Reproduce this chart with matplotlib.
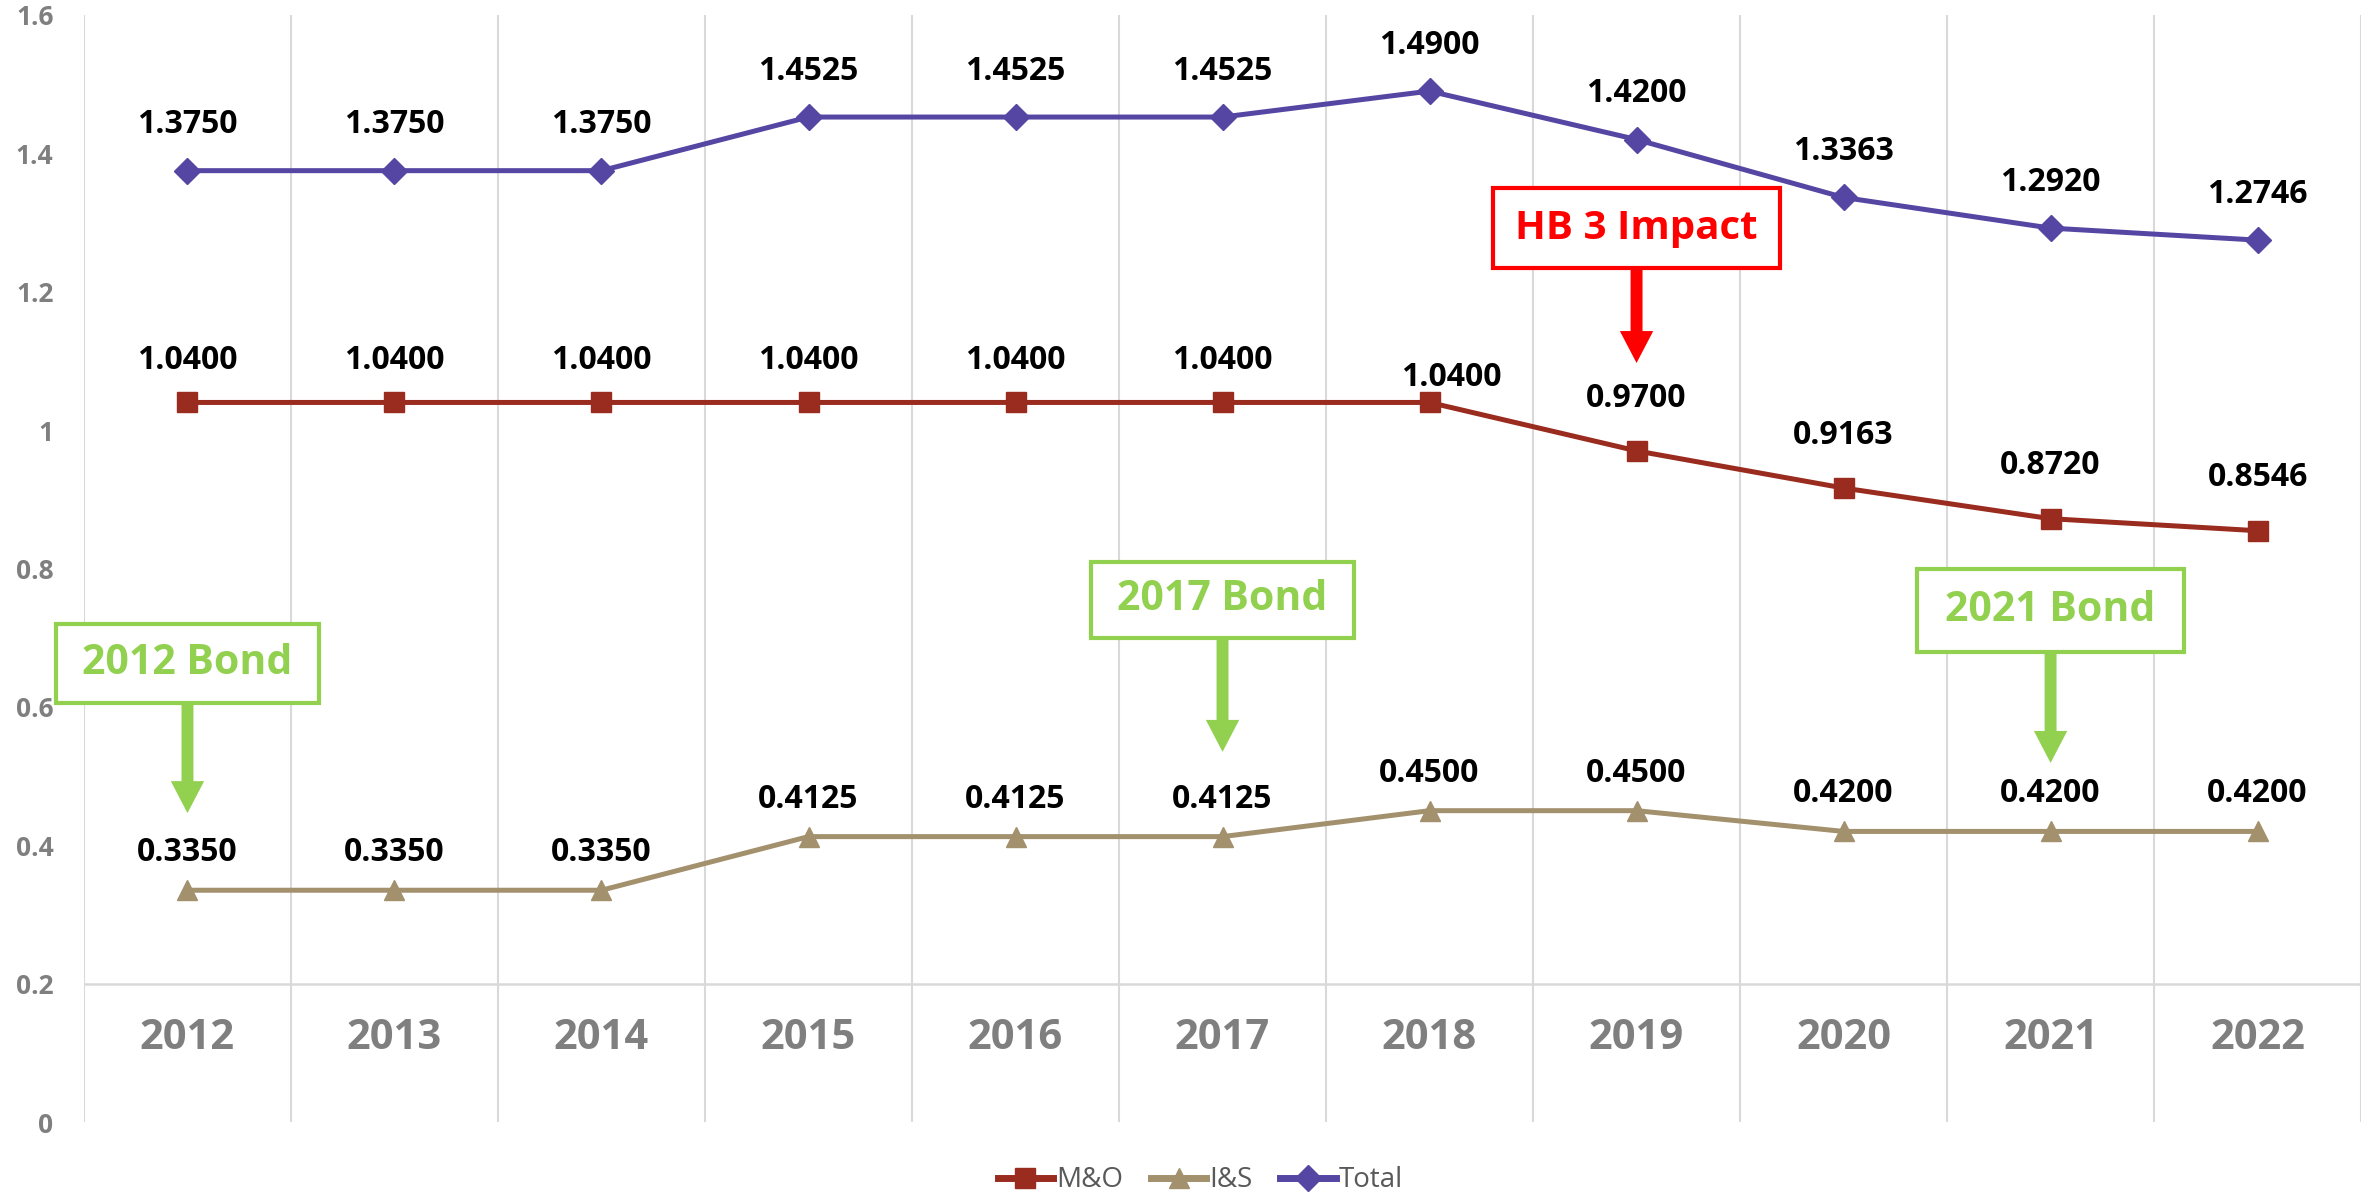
import numpy as np
import matplotlib
matplotlib.use('Agg')
import matplotlib.pyplot as plt

plt.rcParams['font.family'] = ['Open Sans', 'DejaVu Sans']

# data
years = ['2012', '2013', '2014', '2015', '2016', '2017', '2018', '2019', '2020', '2021', '2022']
mo = [1.04, 1.04, 1.04, 1.04, 1.04, 1.04, 1.04, 0.97, 0.9163, 0.872, 0.8546]
i_s = [0.335, 0.335, 0.335, 0.4125, 0.4125, 0.4125, 0.45, 0.45, 0.42, 0.42, 0.42]
total = [1.375, 1.375, 1.375, 1.4525, 1.4525, 1.4525, 1.49, 1.42, 1.3363, 1.292, 1.2746]

# annotations: (text, year index, box bottom, box top, arrow tip, box half width)
notes_red = [('HB 3 Impact', 7, 1.234, 1.35, 1.097, 0.695)]
notes_green = [('2012 Bond', 0, 0.605, 0.72, 0.4465, 0.635),
               ('2017 Bond', 5, 0.70, 0.81, 0.535, 0.635),
               ('2021 Bond', 9, 0.68, 0.80, 0.519, 0.645)]

c_mo = '#9A2B1F'
c_is = '#A3906D'
c_tot = '#5546A3'
gray = '#7F7F7F'
grid = '#D9D9D9'

fig = plt.figure(figsize=(23.72, 11.99), dpi=100)
ax = fig.add_axes([0.0354, 0.0642, 0.96, 0.9233])
x = np.arange(len(years))

ax.plot(x, mo, color=c_mo, lw=3.6, marker='s', ms=15, label='M&O', zorder=3)
ax.plot(x, i_s, color=c_is, lw=3.6, marker='^', ms=15, label='I&S', zorder=3)
ax.plot(x, total, color=c_tot, lw=3.6, marker='D', ms=13, label='Total', zorder=3)

ax.set_xlim(-0.5, len(years) - 0.5)
ax.set_ylim(0, 1.6)
ax.set_yticks(np.arange(0, 1.61, 0.2))
ax.set_yticklabels(['0', '0.2', '0.4', '0.6', '0.8', '1', '1.2', '1.4', '1.6'])
ax.tick_params(axis='y', length=0, pad=22, labelsize=19, labelcolor=gray)
for t in ax.get_yticklabels():
    t.set_fontweight('bold')
ax.set_xticks([])
for s in ax.spines.values():
    s.set_visible(False)

for b in np.arange(-0.5, len(years), 1.0):
    ax.axvline(b, color=grid, lw=1.5, zorder=0)
ax.axhline(0.2, color=grid, lw=1.8, zorder=0)

for i, yr in enumerate(years):
    ax.text(i, 0.12, yr, ha='center', va='center', fontsize=30, fontweight='bold', color=gray)

def labels(vals, off, special=None):
    for i, v in enumerate(vals):
        dx, dy = 0, off
        if special and i in special:
            dx, dy = special[i]
        ax.annotate('%.4f' % v, (i, v), xytext=(dx, dy), textcoords='offset points',
                    ha='center', va='center', fontsize=23, fontweight='bold', color='black')

labels(total, 33)
labels(mo[:7], 30, special={6: (16, 18)})
for i in range(7, len(mo)):
    ax.annotate('%.4f' % mo[i], (i, mo[i]), xytext=(0, 38), textcoords='offset points',
                ha='center', va='center', fontsize=23, fontweight='bold', color='black')
labels(i_s, 27)

def callout(notes, color, fs):
    for txt, xi, y0, y1, tip, hw in notes:
        ax.add_patch(plt.Rectangle((xi - hw, y0), 2 * hw, y1 - y0, fill=True, facecolor='white',
                                   edgecolor=color, lw=3, zorder=4, clip_on=False))
        ax.text(xi, (y0 + y1) / 2, txt, ha='center', va='center', fontsize=fs,
                fontweight='bold', color=color, zorder=5)
        ax.annotate('', xy=(xi, tip), xytext=(xi, y0),
                    arrowprops=dict(arrowstyle='simple,head_width=2.4,head_length=2.3,tail_width=0.86',
                                    color=color, lw=0, shrinkA=0, shrinkB=0), zorder=5)

callout(notes_red, '#FF0000', 29)
callout(notes_green, '#92D050', 29.5)

leg = fig.legend(loc='lower center', bbox_to_anchor=(0.506, -0.017), ncol=3, frameon=False,
                 fontsize=20, handlelength=2.0, columnspacing=1.0, handletextpad=0.1)
for t in leg.get_texts():
    t.set_color('#595959')
for h in leg.legend_handles:
    h.set_linewidth(5)

fig.savefig('out.png', dpi=100)
